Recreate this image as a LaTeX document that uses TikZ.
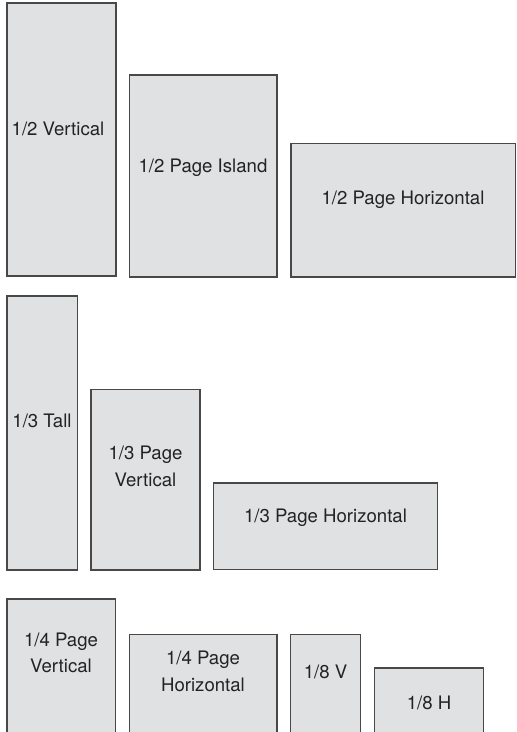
\documentclass[tikz,border=0pt]{standalone}
\usepackage{fontspec}
\setmainfont{TeX Gyre Heros}
\definecolor{boxfill}{RGB}{224,225,227}
\definecolor{boxline}{RGB}{72,72,72}
\definecolor{txt}{RGB}{35,35,35}
\tikzset{
  adbox/.style={draw=boxline, fill=boxfill, line width=1.4pt},
  adlabel/.style={anchor=base, align=center, inner sep=0pt, text=txt,
    font=\fontsize{18.6}{26.3}\selectfont}
}
\begin{document}
\begin{tikzpicture}[x=1pt,y=-1pt]
\useasboundingbox (0,0) rectangle (517,732);
% row 1
\draw[adbox] (7,3) rectangle (116,276);
\draw[adbox] (129.5,75) rectangle (277,277);
\draw[adbox] (291,143.5) rectangle (515.5,277);
% row 2
\draw[adbox] (7,296) rectangle (77.5,570);
\draw[adbox] (91,389.5) rectangle (200,570);
\draw[adbox] (213.5,483) rectangle (437.5,569.5);
% row 3
\draw[adbox] (7,599) rectangle (115.5,734);
\draw[adbox] (129.5,634.5) rectangle (277,734);
\draw[adbox] (290.5,634.5) rectangle (360.5,734);
\draw[adbox] (374.5,668) rectangle (483.5,734);
% labels (base anchor = baseline of the last line)
\node[adlabel] (v12) at (58,135.5) {1/2 Vertical};
\node[adlabel] (i12) at (203,172) {1/2 Page Island};
\node[adlabel] (h12) at (403,204.3) {1/2 Page Horizontal};
\node[adlabel] (t13) at (42,427.5) {1/3 Tall};
\node[adlabel] (v13) at (145.5,486) {1/3 Page\\Vertical};
\node[adlabel] (h13) at (325.5,522.7) {1/3 Page Horizontal};
\node[adlabel] (v14) at (61,672.5) {1/4 Page\\Vertical};
\node[adlabel] (h14) at (203,691) {1/4 Page\\Horizontal};
\node[adlabel] (v18) at (325.5,678.3) {1/8 V};
\node[adlabel] (h18) at (429,709.3) {1/8 H};
\end{tikzpicture}
\end{document}
